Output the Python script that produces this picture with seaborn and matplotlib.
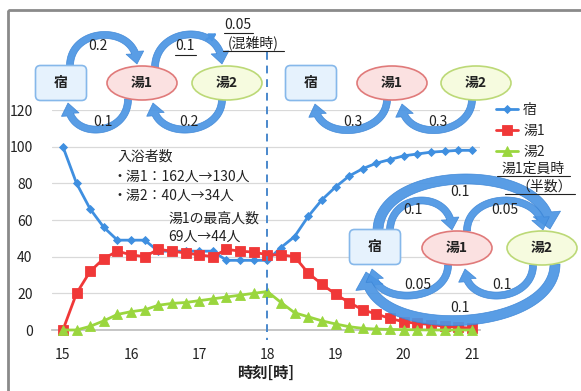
import numpy as np
import pandas as pd
import matplotlib
matplotlib.use("Agg")
import matplotlib.pyplot as plt
import seaborn as sns
from matplotlib.patches import FancyArrowPatch, FancyBboxPatch, Ellipse, Rectangle, Polygon

# ---- data ----
hours = [round(15 + 0.2 * i, 1) for i in range(31)]
inn = [100, 80, 66, 56, 49, 49, 49, 43, 43, 43, 43, 43, 38, 38, 38, 38,
       45, 51, 62, 71, 78, 84, 88, 91, 93, 95, 96, 97, 97.5, 98, 98]
bath1 = [0, 20, 32, 39, 43, 41, 40, 44, 43, 42, 41, 40, 44, 43, 42.5, 41,
         41, 40, 31, 25, 19.5, 15, 11, 8.7, 6.3, 4.5, 3.6, 3, 2, 1.5, 1]
bath2 = [0, 0, 2, 5, 8.5, 10, 11, 13.5, 14.5, 15, 16, 17, 18, 19, 20, 21,
         15, 9.4, 7.2, 5, 3.3, 1.8, 0.9, 0.5, 0.3, 0.2, 0.1, 0, 0, 0, 0]
series_names = ["宿", "湯1", "湯2"]
x_ticks = [15, 16, 17, 18, 19, 20, 21]
y_ticks = [0, 20, 40, 60, 80, 100, 120]

df = pd.DataFrame({
    "時刻": hours * 3,
    "人数": inn + bath1 + bath2,
    "系列": [series_names[0]] * 31 + [series_names[1]] * 31 + [series_names[2]] * 31,
})

sns.set_theme(style="white")
plt.rcParams["font.family"] = ["Noto Sans CJK JP", "DejaVu Sans"]

W, H = 581, 391
fig = plt.figure(figsize=(W / 100, H / 100), dpi=100)
fig.patch.set_facecolor("white")

# main chart axes (pixel box: x 52..480, y 110..330)
ax = fig.add_axes([52 / W, 1 - 330 / H, 428 / W, 220 / H])
palette = {"宿": "#3f8fe0", "湯1": "#f03838", "湯2": "#9ad63e"}
markers = {"宿": "D", "湯1": "s", "湯2": "^"}
sizes = {"宿": 4.5, "湯1": 7, "湯2": 6.5}
for name in series_names:
    sub = df[df["系列"] == name]
    sns.lineplot(data=sub, x="時刻", y="人数", ax=ax, color=palette[name],
                 marker=markers[name], markersize=sizes[name], linewidth=2.0,
                 markeredgecolor=palette[name], markeredgewidth=0.6,
                 label=name, clip_on=False, zorder=3, legend=False)

ax.set_xlim(14.84, 21.12)
ax.set_ylim(0, 120)
ax.set_xticks(x_ticks)
ax.set_xticks(hours, minor=True)
ax.set_yticks(y_ticks)
ax.set_xticklabels([str(t) for t in x_ticks], fontsize=10, color="#222222")
ax.set_yticklabels([str(t) for t in y_ticks], fontsize=10, color="#222222")
ax.tick_params(axis="x", which="both", direction="out", length=4, color="#c4c4c4", pad=9)
ax.tick_params(axis="y", length=0, pad=14)
ax.grid(axis="y", color="#d9d9d9", linewidth=0.9)
ax.grid(axis="x", visible=False)
for s in ["top", "right", "left"]:
    ax.spines[s].set_visible(False)
ax.spines["bottom"].set_color("#bfbfbf")
ax.set_xlabel("時刻[時]", fontsize=11, fontweight="bold", labelpad=2, color="#222222")
ax.set_ylabel("")
ax.set_facecolor("none")

# legend
handles = ax.get_lines()[:3]
fig.legend(handles, series_names, loc="upper left", bbox_to_anchor=(496 / W, 1 - 103 / H),
           frameon=False, fontsize=10, handlelength=1.6, handletextpad=0.35,
           labelspacing=0.5, borderpad=0, borderaxespad=0)

# overlay in pixel coordinates for diagrams and notes
ov = fig.add_axes([0, 0, 1, 1], zorder=5)
ov.set_xlim(0, W)
ov.set_ylim(H, 0)
ov.axis("off")
ov.patch.set_alpha(0)

# frame
ov.add_patch(Rectangle((8, 10), 600, 400, fill=False, edgecolor="#8a8a8a", linewidth=2))

# dashed line at 18h
x18 = ax.transData.transform((18, 0))[0]
ov.plot([x18, x18], [52, 340], color="#4a88cc", linestyle=(0, (4, 3)), linewidth=1.4)

ARROW = "#4b95e3"


def node_box(cx, cy, label):
    ov.add_patch(FancyBboxPatch((cx - 24, cy - 16), 48, 32,
                                boxstyle="round,pad=1.5,rounding_size=5",
                                facecolor="#e6f2fd", edgecolor="#86b8ea", linewidth=1.2, zorder=4))
    ov.text(cx, cy, label, ha="center", va="center", fontsize=10, fontweight="bold",
            color="#222222", zorder=6)


def node_ellipse(cx, cy, label, fc, ec):
    ov.add_patch(Ellipse((cx, cy), 70, 34, facecolor=fc, edgecolor=ec, linewidth=1.2, zorder=4))
    ov.text(cx, cy, label, ha="center", va="center", fontsize=10, fontweight="bold",
            color="#222222", zorder=6)


def loop(x0, y0, x1, y1, h, w=3.5, hw=9.0, hl=12.0, z=3):
    """Curved block arrow along a cubic Bezier from (x0, y0) to (x1, y1)."""
    P = np.array([[x0, y0], [x0, y0 + h], [x1, y1 + h], [x1, y1]], float)
    t = np.linspace(0, 1, 300)[:, None]
    pts = ((1 - t) ** 3 * P[0] + 3 * (1 - t) ** 2 * t * P[1]
           + 3 * (1 - t) * t ** 2 * P[2] + t ** 3 * P[3])
    seg = np.hypot(*np.diff(pts, axis=0).T)
    cum = np.concatenate([[0], np.cumsum(seg)])
    k = np.searchsorted(cum, cum[-1] - hl)
    body = pts[:k + 1]
    d = np.gradient(body, axis=0)
    d /= np.hypot(d[:, 0], d[:, 1])[:, None]
    n = np.column_stack([-d[:, 1], d[:, 0]])
    left = body + n * w
    right = body - n * w
    tip = pts[-1]
    base = body[-1]
    hd = (tip - base) / np.hypot(*(tip - base))
    hn = np.array([-hd[1], hd[0]])
    poly = np.vstack([left, [base + hn * hw], [tip], [base - hn * hw], right[::-1]])
    ov.add_patch(Polygon(poly, closed=True, facecolor=ARROW, edgecolor="#3a84d6",
                         linewidth=0.5, alpha=0.92, zorder=z))


def label(x, y, s, ha="center"):
    return ov.text(x, y, s, ha=ha, va="center", fontsize=10, color="#222222", zorder=7)


# top-left diagram
loop(70, 66, 137, 64, -40)
loop(155, 68, 222, 64, -42)
loop(128, 99, 68, 103, 38)
loop(222, 99, 153, 103, 38)
ov.add_patch(FancyArrowPatch((204, 41), (219, 32), arrowstyle="-|>,head_length=4,head_width=2.5",
                             color=ARROW, linewidth=1.5, zorder=6))
node_box(61, 83, "宿")
node_ellipse(142, 83, "湯1", "#fbe1e1", "#e07a7a")
node_ellipse(227, 83, "湯2", "#f6fbdf", "#bcd977")
label(98, 46, "0.2")
label(185, 46, "0.1")
ov.plot([175, 196], [55, 55], color="#222222", lw=0.8, zorder=7)
label(238, 25, "0.05")
ov.plot([224, 253], [33, 33], color="#222222", lw=0.8, zorder=7)
label(253, 43, "(混雑時)")
ov.plot([223, 284], [51, 51], color="#222222", lw=0.8, zorder=7)
label(103, 122, "0.1")
label(189, 122, "0.2")

# top-right diagram
loop(387, 99, 315, 104, 38)
loop(472, 99, 402, 104, 38)
node_box(311, 83, "宿")
node_ellipse(392, 83, "湯1", "#fbe1e1", "#e07a7a")
node_ellipse(476, 83, "湯2", "#f6fbdf", "#bcd977")
label(353, 122, "0.3")
label(438, 122, "0.3")

# bottom-right diagram
loop(378, 231, 550, 229, -68, w=5, hw=14, hl=16, z=2)
loop(390, 231, 452, 230, -40)
loop(467, 231, 543, 230, -40)
loop(448, 265, 372, 269, 38)
loop(533, 265, 465, 269, 38)
loop(555, 264, 366, 272, 70, w=5, hw=14, hl=16, z=2)
node_box(375, 247, "宿")
node_ellipse(457, 248, "湯1", "#fbe1e1", "#e07a7a")
node_ellipse(542, 248, "湯2", "#f6fbdf", "#bcd977")
label(460, 192, "0.1")
label(413, 210, "0.1")
label(505, 210, "0.05")
label(418, 285, "0.05")
label(502, 285, "0.1")
label(460, 308, "0.1")

# notes
label(533, 169, "湯1定員時")
ov.plot([497, 570], [176, 176], color="#222222", lw=0.8, zorder=7)
label(572, 187, "（半数）", ha="right")
ov.plot([505, 575], [194, 194], color="#222222", lw=0.8, zorder=7)

label(117, 157, "入浴者数", ha="left")
label(113, 177, "・湯1：162人→130人", ha="left")
label(113, 196, "・湯2：40人→34人", ha="left")
label(168, 219, "湯1の最高人数", ha="left")
label(168, 237, "69人→44人", ha="left")

fig.savefig("out.png", dpi=100)
